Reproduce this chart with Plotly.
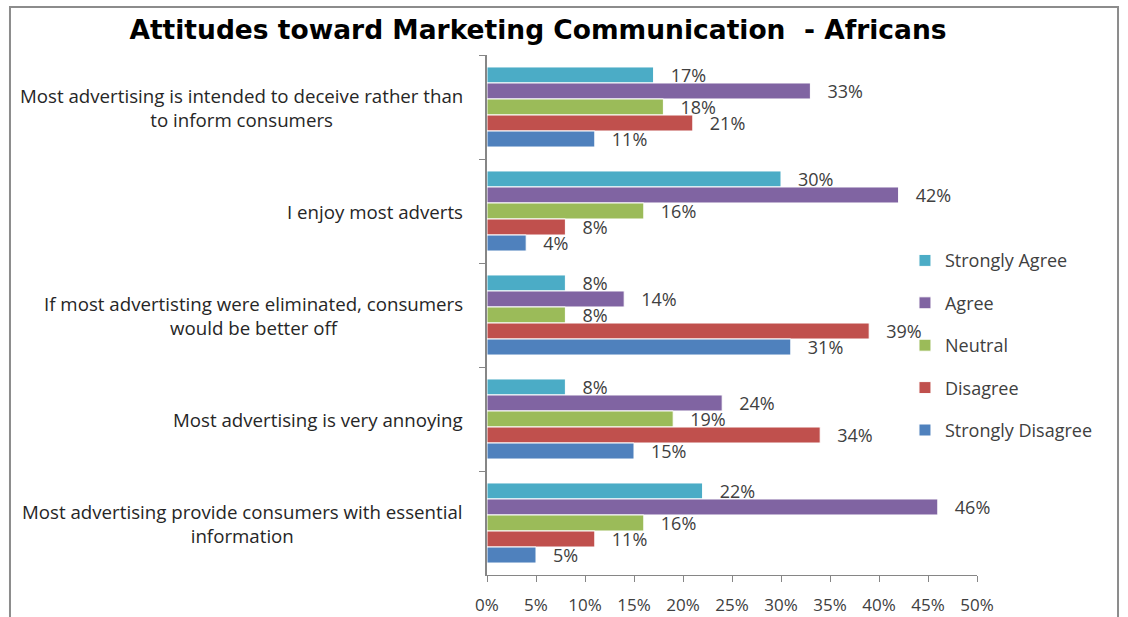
import plotly.graph_objects as go

# Survey statements (top to bottom) and response shares in percent
statements = [
    "Most advertising is intended to deceive rather than<br>to inform consumers",
    "I enjoy most adverts",
    "If most advertisting were eliminated, consumers<br>would be better off",
    "Most advertising is very annoying",
    "Most advertising provide consumers with essential<br>information",
]
responses = ["Strongly Agree", "Agree", "Neutral", "Disagree", "Strongly Disagree"]

strongly_agree = [17, 30, 8, 8, 22]
agree = [33, 42, 14, 24, 46]
neutral = [18, 16, 8, 19, 16]
disagree = [21, 8, 39, 34, 11]
strongly_disagree = [11, 4, 31, 15, 5]

x_ticks = [0, 5, 10, 15, 20, 25, 30, 35, 40, 45, 50]

series = [strongly_agree, agree, neutral, disagree, strongly_disagree]
colors = ["#4BACC6", "#8064A2", "#9BBB59", "#C0504D", "#4F81BD"]

FONT = "Open Sans"
TEXT_COLOR = "#404040"

fig = go.Figure()
for name, vals, col in zip(responses, series, colors):
    fig.add_trace(go.Bar(
        y=statements,
        x=vals,
        name=name,
        orientation="h",
        marker=dict(color=col, line=dict(color="white", width=1)),
        text=[f"\u00a0\u00a0\u00a0{v}%" for v in vals],
        textposition="outside",
        constraintext="none",
        textfont=dict(family=FONT, size=18, color=TEXT_COLOR),
        cliponaxis=False,
        legendgroup=name,
    ))

# Statement labels: block right-aligned next to the axis, lines centred
for s in statements:
    fig.add_annotation(
        x=-0.045, xref="paper", y=s, yref="y",
        text=s, showarrow=False, xanchor="right", yanchor="middle",
        align="center", font=dict(family=FONT, size=18.7, color="#262626"),
    )

# Outer chart frame
fig.add_shape(type="rect", xref="paper", yref="paper",
              x0=-0.9735, x1=1.2878, y0=-0.2, y1=1.0923,
              line=dict(color="#8C8C8C", width=2), fillcolor="rgba(0,0,0,0)")

fig.update_layout(
    width=1128, height=617,
    margin=dict(l=487, r=151, t=55, b=42, autoexpand=False),
    paper_bgcolor="white", plot_bgcolor="white",
    barmode="group", bargap=0.23, bargroupgap=0,
    title=dict(
        text="<b>Attitudes toward Marketing Communication  - Africans</b>",
        x=538 / 1128, xanchor="center", xref="container",
        y=1 - 30 / 617, yanchor="middle", yref="container",
        font=dict(family="DejaVu Sans", size=26.5, color="black"),
    ),
    legend=dict(
        x=0.853, xanchor="left", y=0.64, yanchor="top",
        font=dict(family=FONT, size=18, color=TEXT_COLOR),
        tracegroupgap=16, bgcolor="rgba(0,0,0,0)",
        itemclick=False,
    ),
    showlegend=True,
)

fig.update_xaxes(
    range=[0, 50], tickvals=x_ticks, ticktext=[f"{t}%" for t in x_ticks],
    showgrid=False, zeroline=False, automargin=False,
    showline=True, linecolor="#868686", linewidth=1,
    ticks="outside", ticklen=6, tickcolor="#868686", ticklabelstandoff=9,
    tickfont=dict(family=FONT, size=17, color=TEXT_COLOR),
)
fig.update_yaxes(
    categoryorder="array", categoryarray=statements, autorange="reversed",
    showticklabels=False, showgrid=False, zeroline=False, automargin=False,
    showline=True, linecolor="#868686", linewidth=2,
    ticks="outside", ticklen=6, tickcolor="#868686", tickson="boundaries",
)

fig.write_html("out.html")
